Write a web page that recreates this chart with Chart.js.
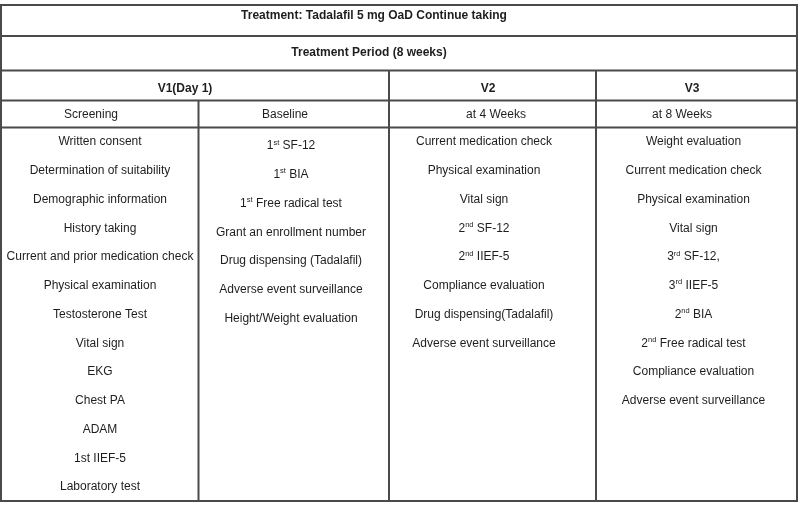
<!DOCTYPE html>
<html>
<head>
<meta charset="utf-8">
<script src="https://cdn.jsdelivr.net/npm/chart.js@4.4.1/dist/chart.umd.min.js"></script>
<style>
html,body{margin:0;padding:0;background:#fff;}
#wrap{width:800px;height:505px;}
</style>
</head>
<body>
<div id="wrap"><canvas id="c" width="800" height="505"></canvas></div>
<script>
// ---- table content ----
const titleText = "Treatment: Tadalafil 5 mg OaD Continue taking";
const periodText = "Treatment Period (8 weeks)";
const visitLabels = ["V1(Day 1)", "V2", "V3"];
const phaseLabels = ["Screening", "Baseline", "at 4 Weeks", "at 8 Weeks"];
const screeningItems = ["Written consent","Determination of suitability","Demographic information","History taking","Current and prior medication check","Physical examination","Testosterone Test","Vital sign","EKG","Chest PA","ADAM","1st IIEF-5","Laboratory test"];
const baselineItems = ["1^st^ SF-12","1^st^ BIA","1^st^ Free radical test","Grant an enrollment number","Drug dispensing (Tadalafil)","Adverse event surveillance","Height/Weight evaluation"];
const week4Items = ["Current medication check","Physical examination","Vital sign","2^nd^ SF-12","2^nd^ IIEF-5","Compliance evaluation","Drug dispensing(Tadalafil)","Adverse event surveillance"];
const week8Items = ["Weight evaluation","Current medication check","Physical examination","Vital sign","3^rd^ SF-12,","3^rd^ IIEF-5","2^nd^ BIA","2^nd^ Free radical test","Compliance evaluation","Adverse event surveillance"];

// ---- layout (table units on 800x505 scales) ----
const L = {
  left: 1, right: 797, top: 5, bottom: 501,
  rows: [36, 70.5, 100.5, 127.5],
  colV1: 198.5, colV2: 389, colV3: 596,
  titleX: 374, titleY: 16,
  periodX: 369, periodY: 53,
  visitX: [185, 488, 692], visitY: 88.5,
  phaseX: [91, 285, 496, 682], phaseY: 115,
  bodyX: [100, 291, 484, 693.5], bodyY0: [142, 146, 142, 142], bodyStep: 28.75
};

const datasets = [
  { label: 'title', bold: true, data: [{x: L.titleX, y: L.titleY, t: titleText}] },
  { label: 'period', bold: true, data: [{x: L.periodX, y: L.periodY, t: periodText}] },
  { label: 'visits', bold: true, data: visitLabels.map((t,i)=>({x: L.visitX[i], y: L.visitY, t})) },
  { label: 'phases', bold: false, data: phaseLabels.map((t,i)=>({x: L.phaseX[i], y: L.phaseY, t})) },
  { label: 'screening', bold: false, data: screeningItems.map((t,i)=>({x: L.bodyX[0], y: L.bodyY0[0] + i*L.bodyStep, t})) },
  { label: 'baseline', bold: false, data: baselineItems.map((t,i)=>({x: L.bodyX[1], y: L.bodyY0[1] + i*L.bodyStep, t})) },
  { label: 'week4', bold: false, data: week4Items.map((t,i)=>({x: L.bodyX[2], y: L.bodyY0[2] + i*L.bodyStep, t})) },
  { label: 'week8', bold: false, data: week8Items.map((t,i)=>({x: L.bodyX[3], y: L.bodyY0[3] + i*L.bodyStep, t})) }
].map(d => Object.assign(d, { pointRadius: 0, pointHoverRadius: 0, showLine: false }));

const FONT = '"Liberation Sans", Arial, Helvetica, sans-serif';

function drawRich(ctx, text, cx, cy, bold) {
  const size = 12, supSize = 7.5;
  const parts = [];
  const re = /\^([^^]*)\^/g;
  let last = 0, m;
  while ((m = re.exec(text))) {
    if (m.index > last) parts.push({ s: text.slice(last, m.index), sup: false });
    parts.push({ s: m[1], sup: true });
    last = re.lastIndex;
  }
  if (last < text.length) parts.push({ s: text.slice(last), sup: false });
  const w = parts.map(p => {
    ctx.font = (bold ? 'bold ' : '') + (p.sup ? supSize : size) + 'px ' + FONT;
    return ctx.measureText(p.s).width;
  });
  const total = w.reduce((a, b) => a + b, 0);
  let x = cx - total / 2;
  ctx.textAlign = 'left';
  ctx.textBaseline = 'middle';
  parts.forEach((p, i) => {
    ctx.font = (bold ? 'bold ' : '') + (p.sup ? supSize : size) + 'px ' + FONT;
    ctx.fillText(p.s, x, p.sup ? cy - 3.5 : cy);
    x += w[i];
  });
}

const tablePlugin = {
  id: 'tablePlugin',
  beforeDraw(chart) {
    const ctx = chart.ctx;
    ctx.save();
    ctx.fillStyle = '#fff';
    ctx.fillRect(0, 0, chart.width, chart.height);
    ctx.restore();
  },
  afterDatasetsDraw(chart) {
    const ctx = chart.ctx;
    const xs = chart.scales.x, ys = chart.scales.y;
    const X = v => xs.getPixelForValue(v), Y = v => ys.getPixelForValue(v);
    ctx.save();
    ctx.strokeStyle = '#4a4a4a';
    ctx.lineWidth = 2;
    const line = (x1, y1, x2, y2) => { ctx.beginPath(); ctx.moveTo(X(x1), Y(y1)); ctx.lineTo(X(x2), Y(y2)); ctx.stroke(); };
    ctx.strokeRect(X(L.left), Y(L.top), X(L.right) - X(L.left), Y(L.bottom) - Y(L.top));
    L.rows.forEach(r => line(L.left, r, L.right, r));
    line(L.colV2, L.rows[1], L.colV2, L.bottom);
    line(L.colV3, L.rows[1], L.colV3, L.bottom);
    line(L.colV1, L.rows[2], L.colV1, L.bottom);
    ctx.fillStyle = '#1e1e1e';
    chart.data.datasets.forEach((ds, di) => {
      const meta = chart.getDatasetMeta(di);
      meta.data.forEach((el, i) => {
        drawRich(ctx, ds.data[i].t, el.x, el.y, ds.bold);
      });
    });
    ctx.restore();
  }
};

new Chart(document.getElementById('c'), {
  type: 'scatter',
  data: { datasets },
  options: {
    responsive: false,
    animation: false,
    layout: { padding: 0 },
    plugins: { legend: { display: false }, tooltip: { enabled: false } },
    scales: {
      x: { type: 'linear', min: 0, max: 800, display: false },
      y: { type: 'linear', min: 0, max: 505, reverse: true, display: false }
    }
  },
  plugins: [tablePlugin]
});
</script>
</body>
</html>
